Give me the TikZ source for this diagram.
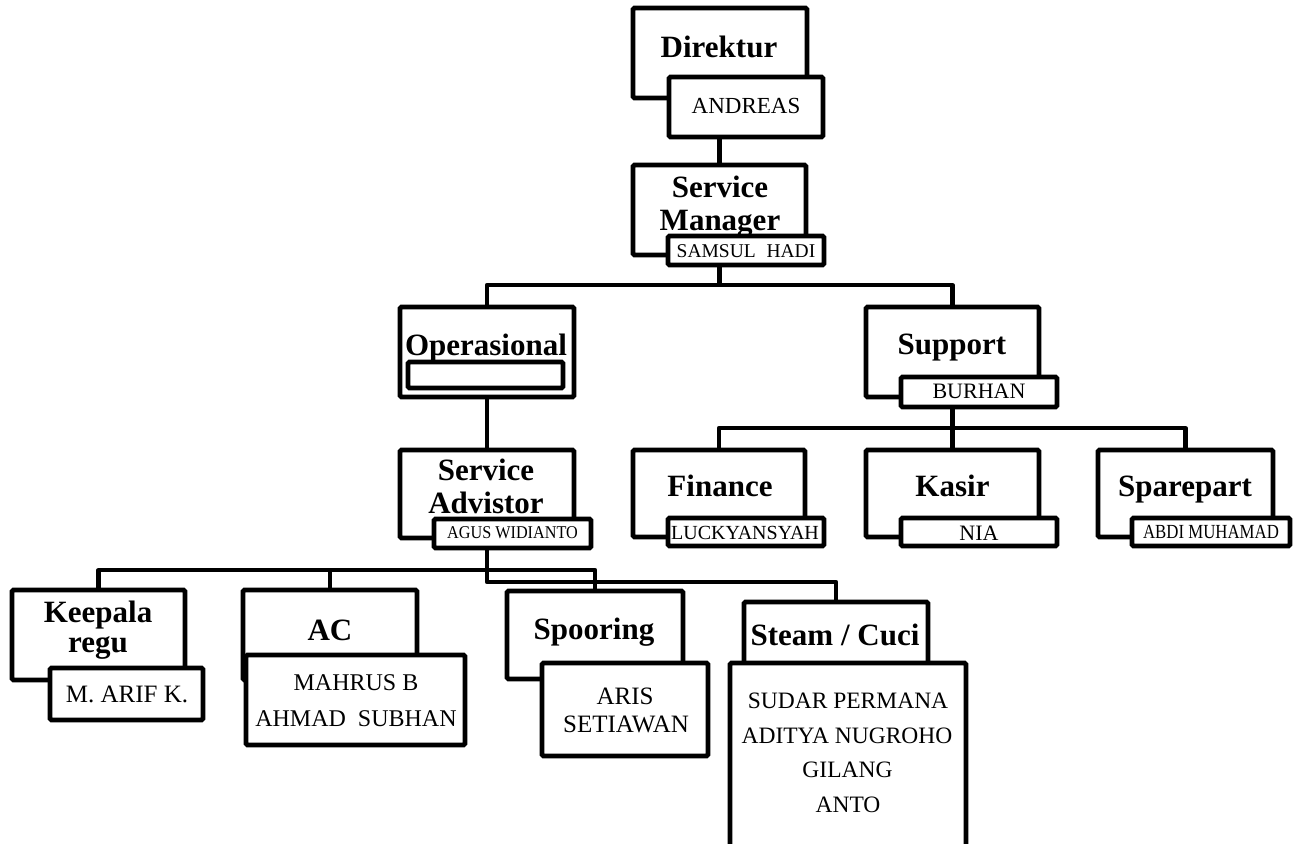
\documentclass[tikz,border=0pt]{standalone}
\usepackage{fontspec}
\setmainfont{Liberation Serif}
\usetikzlibrary{fit}
\pgfdeclarelayer{bg}
\pgfsetlayers{bg,main}
\tikzset{
  box/.style={draw=black, fill=white, line width=4.8pt, rounded corners=1.5pt, inner sep=0pt},
  ttl/.style={font=\fontsize{31}{33}\selectfont\bfseries, anchor=base, inner sep=0pt},
  nm/.style={font=\fontsize{#1}{#1}\selectfont, anchor=base, inner sep=0pt},
  link/.style={draw=black, line width=4.2pt, line join=round}
}
\begin{document}
\begin{tikzpicture}[x=1pt,y=-1pt]
\useasboundingbox (0,0) rectangle (1295,843);
\begin{pgfonlayer}{bg}
\fill[white] (0,0) rectangle (1295,843);
\end{pgfonlayer}
\clip (0,0) rectangle (1295,843);

% Direktur
\node[box, fit={(633,8)(807,98)}] (dir) {};
\node[ttl] (dirT) at (719,57) {Direktur};
\node[box, fit={(669,77)(823,137)}] (andreas) {};
\node[nm=23] (andreasT) at (746,113) {ANDREAS};

% Service Manager
\node[box, fit={(633,165)(806,255)}] (sm) {};
\node[ttl] (smT1) at (720,197) {Service};
\node[ttl] (smT2) at (720,230) {Manager};
\node[box, fit={(668,236)(824,265)}] (samsul) {};
\node[nm=19.5] (samsulT) at (746,257) {SAMSUL\hspace{0.55em}HADI};

% Operasional
\node[box, fit={(400,307)(574,397)}] (ops) {};
\node[ttl] (opsT) at (486,355) {Operasional};
\node[box, fit={(408,362)(563,388)}] (opsname) {};

% Support
\node[box, fit={(866,307)(1039,397)}] (sup) {};
\node[ttl] (supT) at (952,354) {Support};
\node[box, fit={(901,377)(1057,407)}] (burhan) {};
\node[nm=22] (burhanT) at (979,398) {BURHAN};

% Service Advisor
\node[box, fit={(400,450)(574,538)}] (sa) {};
\node[ttl] (saT1) at (486,480) {Service};
\node[ttl] (saT2) at (486,513) {Advistor};
\node[box, fit={(434,519)(591,548)}] (agus) {};
\node[nm=18, xscale=0.9] (agusT) at (512.5,538) {AGUS WIDIANTO};

% Finance
\node[box, fit={(633,450)(805,537)}] (fin) {};
\node[ttl] (finT) at (720,496) {Finance};
\node[box, fit={(668,518)(824,546)}] (lucky) {};
\node[nm=20] (luckyT) at (745,539) {LUCKYANSYAH};

% Kasir
\node[box, fit={(866,450)(1039,537)}] (kas) {};
\node[ttl] (kasT) at (952.5,496) {Kasir};
\node[box, fit={(901,518)(1057,546)}] (nia) {};
\node[nm=22] (niaT) at (979,540) {NIA};

% Sparepart
\node[box, fit={(1098,450)(1273,537)}] (spa) {};
\node[ttl] (spaT) at (1185,496) {Sparepart};
\node[box, fit={(1132,518)(1290,546)}] (abdi) {};
\node[nm=20, xscale=0.84] (abdiT) at (1211,538) {ABDI MUHAMAD};

% Keepala regu
\node[box, fit={(12,590)(185,680)}] (kep) {};
\node[ttl] (kepT1) at (98,622) {Keepala};
\node[ttl] (kepT2) at (98,652) {regu};
\node[box, fit={(50,668)(203,720)}] (arif) {};
\node[nm=25] (arifT) at (127,702) {M. ARIF K.};

% AC
\node[box, fit={(243,590)(417,680)}] (ac) {};
\node[ttl] (acT) at (330,640) {AC};
\node[box, fit={(246,655)(465,745)}] (acn) {};
\node[nm=24] (acn1) at (356,690) {MAHRUS B};
\node[nm=24] (acn2) at (356,726) {AHMAD\hspace{0.5em}SUBHAN};

% Spooring
\node[box, fit={(507,591)(683,679)}] (spo) {};
\node[ttl] (spoT) at (594,639) {Spooring};
\node[box, fit={(542,663)(708,756)}] (aris) {};
\node[nm=25] (aris1) at (625,704) {ARIS};
\node[nm=25] (aris2) at (626,732) {SETIAWAN};

% Steam / Cuci
\node[box, fit={(744,602)(928,668)}] (stm) {};
\node[ttl] (stmT) at (835,645) {Steam / Cuci};
\node[box, fit={(730,663)(966,880)}] (stmn) {};
\node[nm=23.5] (stm1) at (848,708) {SUDAR PERMANA};
\node[nm=23.5] (stm2) at (847,743) {ADITYA NUGROHO};
\node[nm=23.5] (stm3) at (847.5,777) {GILANG};
\node[nm=23.5] (stm4) at (848,812) {ANTO};

% connectors
\coordinate (h1) at (0,285);
\coordinate (h2) at (0,428);
\coordinate (h3) at (0,570);
\coordinate (h4) at (0,582);
\begin{pgfonlayer}{bg}
\draw[link] (sm.north |- andreas.south) -- (sm.north);
\draw[link] (sm.south) -- (sm.south |- h1);
\draw[link] (ops.north) |- (sup.north |- h1) -- (sup.north);
\draw[link] (ops.south) -- (sa.north);
\draw[link] (sup.south) -- (kas.north);
\draw[link] (fin.north) |- (spa.north |- h2) -- (spa.north);
\draw[link] (sa.south) |- (stm.north |- h4) -- (stm.north);
\draw[link] (kep.north) |- (spo.north |- h3) -- (spo.north);
\draw[link] (ac.north) -- (ac.north |- h3);
\end{pgfonlayer}
\end{tikzpicture}
\end{document}
